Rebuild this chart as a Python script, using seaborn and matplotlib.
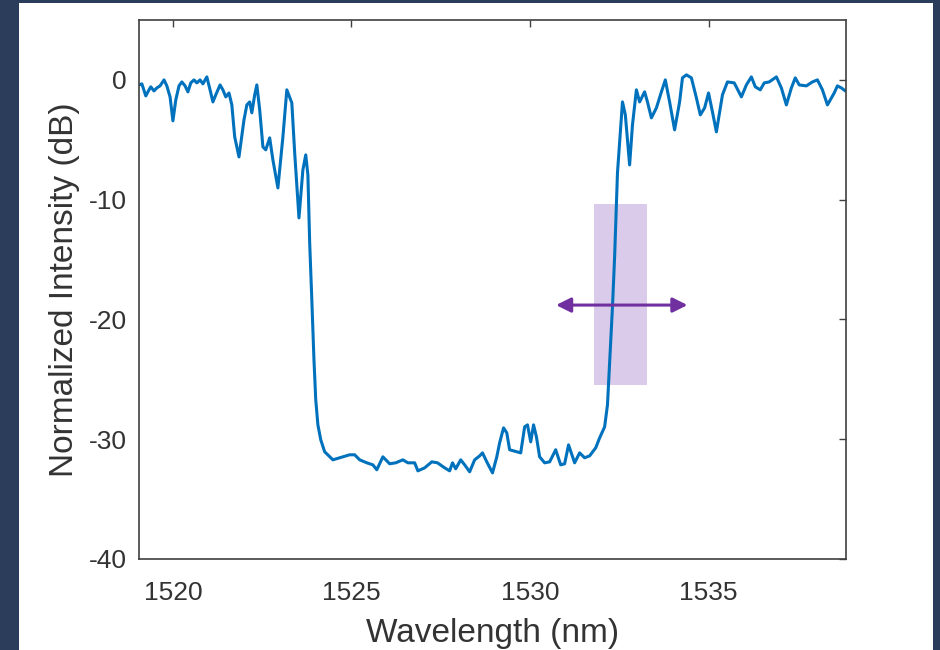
import matplotlib
matplotlib.use("Agg")
import matplotlib.pyplot as plt
import matplotlib.patches as mpatches
import seaborn as sns
import pandas as pd

wavelength_nm = [
    1519.05, 1519.13, 1519.24, 1519.33, 1519.38, 1519.47, 1519.55, 1519.64, 1519.75, 1519.83,
    1519.92, 1520.00, 1520.08, 1520.17, 1520.25, 1520.34, 1520.42, 1520.50, 1520.59, 1520.67,
    1520.76, 1520.84, 1520.95, 1521.04, 1521.12, 1521.20, 1521.32, 1521.40, 1521.48, 1521.57,
    1521.65, 1521.73, 1521.85, 1521.99, 1522.07, 1522.15, 1522.21, 1522.29, 1522.35, 1522.43,
    1522.52, 1522.60, 1522.71, 1522.80, 1522.94, 1523.08, 1523.19, 1523.33, 1523.41, 1523.53,
    1523.64, 1523.72, 1523.78, 1523.83, 1523.89, 1523.95, 1524.00, 1524.06, 1524.14, 1524.25,
    1524.48, 1524.67, 1524.76, 1524.95, 1525.09, 1525.23, 1525.43, 1525.60, 1525.71, 1525.88,
    1526.07, 1526.24, 1526.44, 1526.58, 1526.77, 1526.86, 1527.05, 1527.25, 1527.41, 1527.61,
    1527.75, 1527.83, 1527.92, 1528.06, 1528.17, 1528.31, 1528.45, 1528.59, 1528.67, 1528.79,
    1528.95, 1529.07, 1529.15, 1529.26, 1529.35, 1529.43, 1529.63, 1529.74, 1529.85, 1529.93,
    1530.02, 1530.10, 1530.18, 1530.27, 1530.41, 1530.55, 1530.72, 1530.86, 1530.97, 1531.08,
    1531.25, 1531.39, 1531.53, 1531.67, 1531.84, 1531.95, 1532.09, 1532.17, 1532.23, 1532.31,
    1532.37, 1532.42, 1532.45, 1532.53, 1532.59, 1532.67, 1532.79, 1532.87, 1532.98, 1533.07,
    1533.21, 1533.29, 1533.40, 1533.54, 1533.68, 1533.79, 1533.91, 1534.05, 1534.19, 1534.27,
    1534.38, 1534.52, 1534.66, 1534.77, 1534.89, 1535.00, 1535.11, 1535.22, 1535.39, 1535.53,
    1535.72, 1535.92, 1536.06, 1536.20, 1536.31, 1536.45, 1536.56, 1536.70, 1536.90, 1537.04,
    1537.18, 1537.32, 1537.43, 1537.54, 1537.74, 1537.91, 1538.05, 1538.19, 1538.33, 1538.52,
    1538.61, 1538.72, 1538.83,
]
intensity_db = [
    -0.42, -0.33, -1.34, -0.83, -0.58, -0.92, -0.67, -0.50, 0.00, -0.50,
    -1.42, -3.42, -1.67, -0.50, -0.17, -0.50, -1.00, -0.25, 0.00, -0.25,
    0.00, -0.33, 0.25, -0.83, -1.84, -1.25, -0.42, -0.83, -1.42, -1.09,
    -2.09, -4.76, -6.43, -3.34, -2.09, -1.84, -2.75, -1.25, -0.42, -2.50,
    -5.59, -5.84, -4.84, -6.68, -9.02, -4.76, -0.83, -1.92, -6.09, -11.52,
    -7.51, -6.26, -7.93, -13.61, -18.36, -23.37, -26.71, -28.80, -30.05, -31.05,
    -31.72, -31.55, -31.47, -31.30, -31.30, -31.72, -31.97, -32.14, -32.55, -31.47,
    -32.05, -31.97, -31.72, -31.97, -31.97, -32.64, -32.39, -31.89, -31.97, -32.39,
    -32.64, -31.97, -32.47, -31.72, -32.14, -32.72, -31.72, -31.39, -31.14, -31.89,
    -32.81, -31.47, -30.30, -29.05, -29.47, -30.88, -31.05, -31.14, -28.97, -28.80,
    -30.22, -28.80, -29.80, -31.47, -31.97, -31.89, -30.88, -32.14, -32.05, -30.47,
    -31.97, -31.14, -31.55, -31.39, -30.72, -29.89, -28.97, -27.13, -23.62, -18.95,
    -14.77, -10.27, -7.76, -4.34, -1.84, -2.92, -7.10, -3.76, -0.83, -1.84,
    -1.00, -1.84, -3.17, -2.34, -1.00, 0.00, -1.84, -4.17, -1.84, 0.17,
    0.42, 0.17, -1.50, -2.92, -2.34, -1.09, -2.67, -4.34, -1.25, -0.17,
    -0.25, -1.42, -0.42, 0.25, -0.58, -0.83, -0.25, -0.17, 0.25, -0.67,
    -2.09, -0.67, 0.17, -0.42, -0.50, -0.17, 0.00, -0.83, -2.09, -1.09,
    -0.50, -0.67, -0.92,
]

# annotation values
band_x = [1531.78, 1533.27]
band_y = [-25.5, -10.35]
arrow_x = [1530.73, 1534.41]
arrow_y = -18.8

x_ticks = [1520, 1525, 1530, 1535]
y_ticks = [-40, -30, -20, -10, 0]

df = pd.DataFrame({"Wavelength (nm)": wavelength_nm, "Normalized Intensity (dB)": intensity_db})

sns.set_style("white")
plt.rcParams["font.family"] = ["Liberation Sans", "DejaVu Sans"]

fig = plt.figure(figsize=(9.4, 6.5), dpi=100)
fig.patch.set_facecolor("#2b3d5b")
panel = mpatches.Rectangle((19 / 940, 0), (933 - 19) / 940, 1 - 3 / 650,
                           transform=fig.transFigure, facecolor="white", edgecolor="none", zorder=-10)
fig.patches.append(panel)

ax = fig.add_axes([139 / 940, 1 - 559 / 650, (846 - 139) / 940, (559 - 20) / 650])
ax.set_zorder(5)
ax.set_facecolor("white")

ax.add_patch(mpatches.Rectangle((band_x[0], band_y[0]), band_x[1] - band_x[0], band_y[1] - band_y[0],
                                facecolor="#d9cbe9", edgecolor="none", zorder=1))

sns.lineplot(data=df, x="Wavelength (nm)", y="Normalized Intensity (dB)", ax=ax,
             color="#0072BD", linewidth=2.2, zorder=2, sort=False)
ax.lines[-1].set_solid_joinstyle("round")

ax.annotate("", xy=(arrow_x[0], arrow_y), xytext=(arrow_x[1], arrow_y),
            arrowprops=dict(arrowstyle="<|-|>", color="#7030a0", lw=2.2,
                            mutation_scale=22, shrinkA=0, shrinkB=0), zorder=3)

ax.set_xlim(1519.05, 1538.85)
ax.set_ylim(-40, 5)
ax.set_xticks(x_ticks)
ax.set_yticks(y_ticks)
ax.set_xticklabels([str(t) for t in x_ticks])
ax.set_yticklabels([str(t) for t in y_ticks])

for s in ax.spines.values():
    s.set_visible(True)
    s.set_color("#404040")
    s.set_linewidth(1.2)
ax.tick_params(axis="both", direction="in", length=5, width=1.0, color="#404040",
               top=True, right=True, labelsize=19, labelcolor="#333333")
ax.tick_params(axis="x", pad=16)
ax.tick_params(axis="y", pad=9)
ax.set_xlabel("Wavelength (nm)", fontsize=24, color="#333333", labelpad=9)
ax.set_ylabel("Normalized Intensity (dB)", fontsize=24, color="#333333", labelpad=6)

fig.savefig("out.png", dpi=100, facecolor=fig.get_facecolor())
